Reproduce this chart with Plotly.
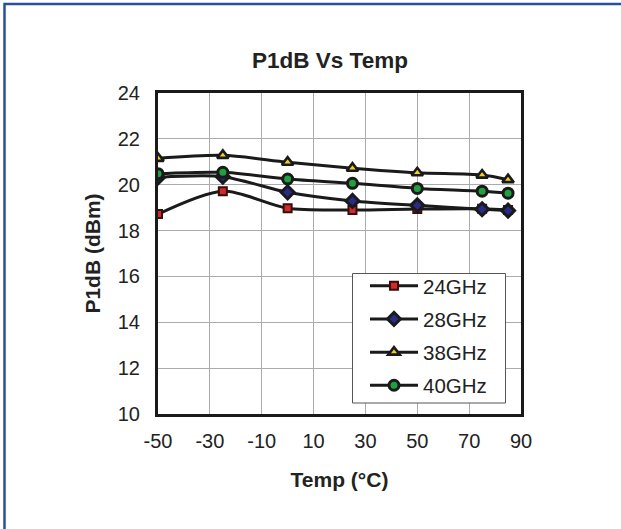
import plotly.graph_objects as go

temps = [-50, -25, 0, 25, 50, 75, 85]
p1db_24 = [18.72, 19.72, 18.97, 18.90, 18.94, 18.95, 18.90]
p1db_28 = [20.32, 20.35, 19.67, 19.29, 19.10, 18.93, 18.87]
p1db_38 = [21.15, 21.28, 20.98, 20.72, 20.52, 20.42, 20.22]
p1db_40 = [20.48, 20.54, 20.25, 20.06, 19.84, 19.72, 19.63]
series_names = ["24GHz", "28GHz", "38GHz", "40GHz"]
x_ticks = [-50, -30, -10, 10, 30, 50, 70, 90]
x_tick_text = ["-50", "-30", "-10", "10", "30", "50", "70", "90"]
y_ticks = [10, 12, 14, 16, 18, 20, 22, 24]

W, H = 621, 529
ML, MR, MT, MB = 158, 100, 93, 115
PW, PH = W - ML - MR, H - MT - MB

styles = [
    dict(symbol="square", size=8, color="#d02a2a", line=dict(color="#3a0d0d", width=2)),
    dict(symbol="diamond", size=10, color="#2a2a8a", line=dict(color="#1a1a1a", width=3)),
    dict(symbol="triangle-up", size=10, color="#f0d020", line=dict(color="#1a1a1a", width=2.6)),
    dict(symbol="circle", size=10, color="#20a040", line=dict(color="#1a1a1a", width=3)),
]

fig = go.Figure()
for i, (name, ys) in enumerate(zip(series_names, [p1db_24, p1db_28, p1db_38, p1db_40])):
    fig.add_trace(go.Scatter(
        x=temps, y=ys, name=name, mode="lines+markers",
        line=dict(color="#1a1a1a", width=3, shape="spline", smoothing=0.8),
        marker=styles[i], legendgroup=name,
    ))

def px_x(px):
    return (px - ML) / PW

def px_y(py):
    return (H - MB - py) / PH

border_color = "#2b4f9c"
# outer frame (top and left edges visible)
fig.add_shape(type="rect", xref="paper", yref="paper",
              x0=px_x(4.5), x1=px_x(700), y0=px_y(4), y1=px_y(700),
              line=dict(color=border_color, width=2.5), fillcolor="rgba(0,0,0,0)",
              layer="below")
# legend box
fig.add_shape(type="rect", xref="paper", yref="paper",
              x0=px_x(352.5), x1=px_x(505.5), y0=px_y(273.5), y1=px_y(403),
              line=dict(color="#555555", width=1), fillcolor="white", layer="above")

fig.update_layout(
    width=W, height=H,
    margin=dict(l=ML, r=MR, t=MT, b=MB, pad=0),
    paper_bgcolor="white", plot_bgcolor="white",
    font=dict(family="Liberation Sans, Arial, sans-serif", color="#222222", size=20),
    title=dict(text="<b>P1dB Vs Temp</b>", x=330 / W, xanchor="center",
               y=1 - 60 / H, yanchor="middle", font=dict(size=22.5, color="#222222")),
    showlegend=True,
    legend=dict(x=px_x(365), y=px_y(266), xanchor="left", yanchor="top",
                bgcolor="rgba(0,0,0,0)", borderwidth=0,
                font=dict(size=20.5, color="#222222"),
                traceorder="grouped", tracegroupgap=3.5, itemwidth=48),
    xaxis=dict(range=[-50, 90], tickmode="array", tickvals=x_ticks, ticktext=x_tick_text,
               showgrid=True, gridcolor="#ababab", gridwidth=1,
               showline=True, linecolor="#1a1a1a", linewidth=3, mirror=True,
               ticks="", ticklabelstandoff=7, zeroline=False,
               title=dict(text="<b>Temp (°C)</b>", font=dict(size=21), standoff=22)),
    yaxis=dict(range=[10, 24], tickmode="array", tickvals=y_ticks,
               showgrid=True, gridcolor="#ababab", gridwidth=1,
               showline=True, linecolor="#1a1a1a", linewidth=3, mirror=True,
               ticks="", ticklabelstandoff=11, zeroline=False,
               title=dict(text="<b>P1dB (dBm)</b>", font=dict(size=21), standoff=12)),
)

fig.write_html("out.html", config={"displayModeBar": False},
               post_script="document.body.style.margin='0';")
